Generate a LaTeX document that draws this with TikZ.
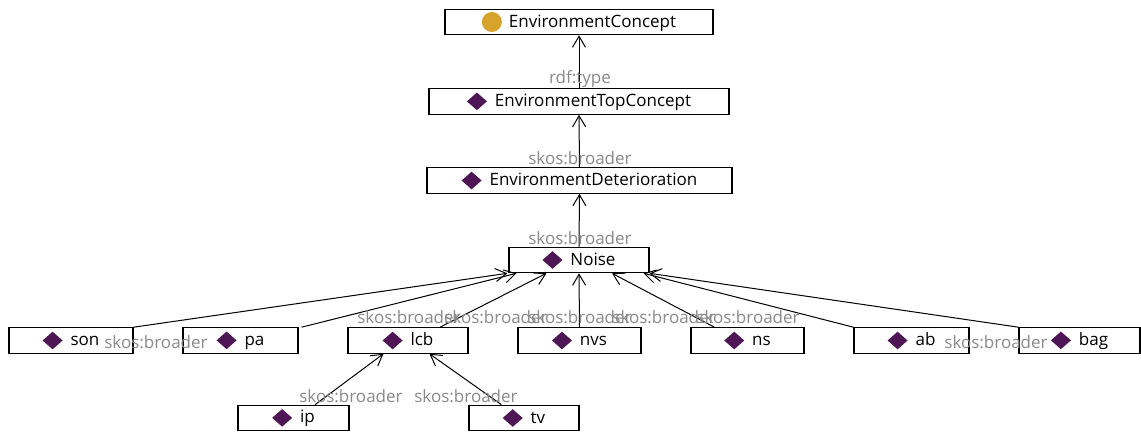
\documentclass[tikz,border=0pt]{standalone}
\usepackage{fontspec}
\setmainfont{Open Sans}
\usetikzlibrary{arrows.meta}
\definecolor{dia}{HTML}{4E1655}
\definecolor{gold}{HTML}{D6A42C}
\definecolor{lblgray}{HTML}{8A8A8A}
\newcommand\dmd{\tikz[baseline=-5pt]\fill[dia] (0pt,0pt)--(10pt,8.8pt)--(20pt,0pt)--(10pt,-8.8pt)--cycle;\hspace{8pt}}
\newcommand\gcirc{\tikz[baseline=-5pt]\fill[gold] (0pt,0pt) circle (10pt);\hspace{7pt}}
\tikzset{
  ent/.style={draw=black, line width=1.1pt, fill=white, inner sep=0pt, minimum height=25.5pt,
    font=\fontsize{17pt}{20pt}\selectfont, text=black},
  lbl/.style={text=lblgray, inner sep=0pt, font=\fontsize{17pt}{20pt}\selectfont},
  rel/.style={draw=black, line width=1pt, -{Straight Barb[length=11pt,width=13pt,line width=1pt]}}
}
\begin{document}
\begin{tikzpicture}[x=1pt,y=-1pt]
\useasboundingbox[fill=white] (0,0) rectangle (1141,432);
% nodes
\node[ent, minimum width=268pt] (ec)    at (579,22)     {\gcirc EnvironmentConcept};
\node[ent, minimum width=300pt] (etc)   at (579,101.5)  {\dmd EnvironmentTopConcept};
\node[ent, minimum width=305pt] (ed)    at (579.5,180.5){\dmd EnvironmentDeterioration};
\node[ent, minimum width=140pt] (noise) at (579,260)    {\dmd Noise};
\node[ent, minimum width=124pt] (son)   at (71,340.5)   {\dmd son};
\node[ent, minimum width=115pt] (pa)    at (240.5,340.5){\dmd pa};
\node[ent, minimum width=120pt] (lcb)   at (408,340.5)  {\dmd lcb};
\node[ent, minimum width=123pt] (nvs)   at (579.5,340.5){\dmd nvs};
\node[ent, minimum width=113pt] (ns)    at (747.5,340.5){\dmd ns};
\node[ent, minimum width=115pt] (ab)    at (911.5,340.5){\dmd ab};
\node[ent, minimum width=121pt] (bag)   at (1079.5,340.5){\dmd bag};
\node[ent, minimum width=111pt] (ip)    at (293.5,418)  {\dmd ip};
\node[ent, minimum width=110pt] (tv)    at (524,418)    {\dmd tv};
% edges
\draw[rel] (etc.north) -- (ec.south);
\draw[rel] (ed.north) -- (etc.south);
\draw[rel] (noise.north) -- (ed.south);
\draw[rel] (son.north east) -- ([xshift=-1pt]noise.south west);
\draw[rel] ([xshift=3pt]pa.north east) -- ([xshift=8pt]noise.south west);
\draw[rel] ([xshift=32pt]lcb.north) -- ([xshift=38pt]noise.south west);
\draw[rel] (nvs.north) -- (noise.south);
\draw[rel] ([xshift=24pt]ns.north west) -- ([xshift=33pt]noise.south);
\draw[rel] (ab.north west) -- ([xshift=-6pt]noise.south east);
\draw[rel] (bag.north west) -- (noise.south east);
\draw[rel] ([xshift=21.5pt]ip.north) -- ([xshift=36pt]lcb.south west);
\draw[rel] ([xshift=33pt]tv.north west) -- ([xshift=82pt]lcb.south west);
% labels
\node[lbl] (l1) at (580,79)  {rdf:type};
\node[lbl] (l2) at (580,158) {skos:broader};
\node[lbl] (l3) at (580,238) {skos:broader};
\node[lbl] (l4) at (156,342) {skos:broader};
\node[lbl] (l5) at (409,317) {skos:broader};
\node[lbl] (l6) at (496,317) {skos:broader};
\node[lbl] (l7) at (580,317) {skos:broader};
\node[lbl] (l8) at (664,317) {skos:broader};
\node[lbl] (l9) at (748,317) {skos:broader};
\node[lbl] (l10) at (996,342) {skos:broader};
\node[lbl] (l11) at (351,396) {skos:broader};
\node[lbl] (l12) at (466,396) {skos:broader};
\end{tikzpicture}
\end{document}
